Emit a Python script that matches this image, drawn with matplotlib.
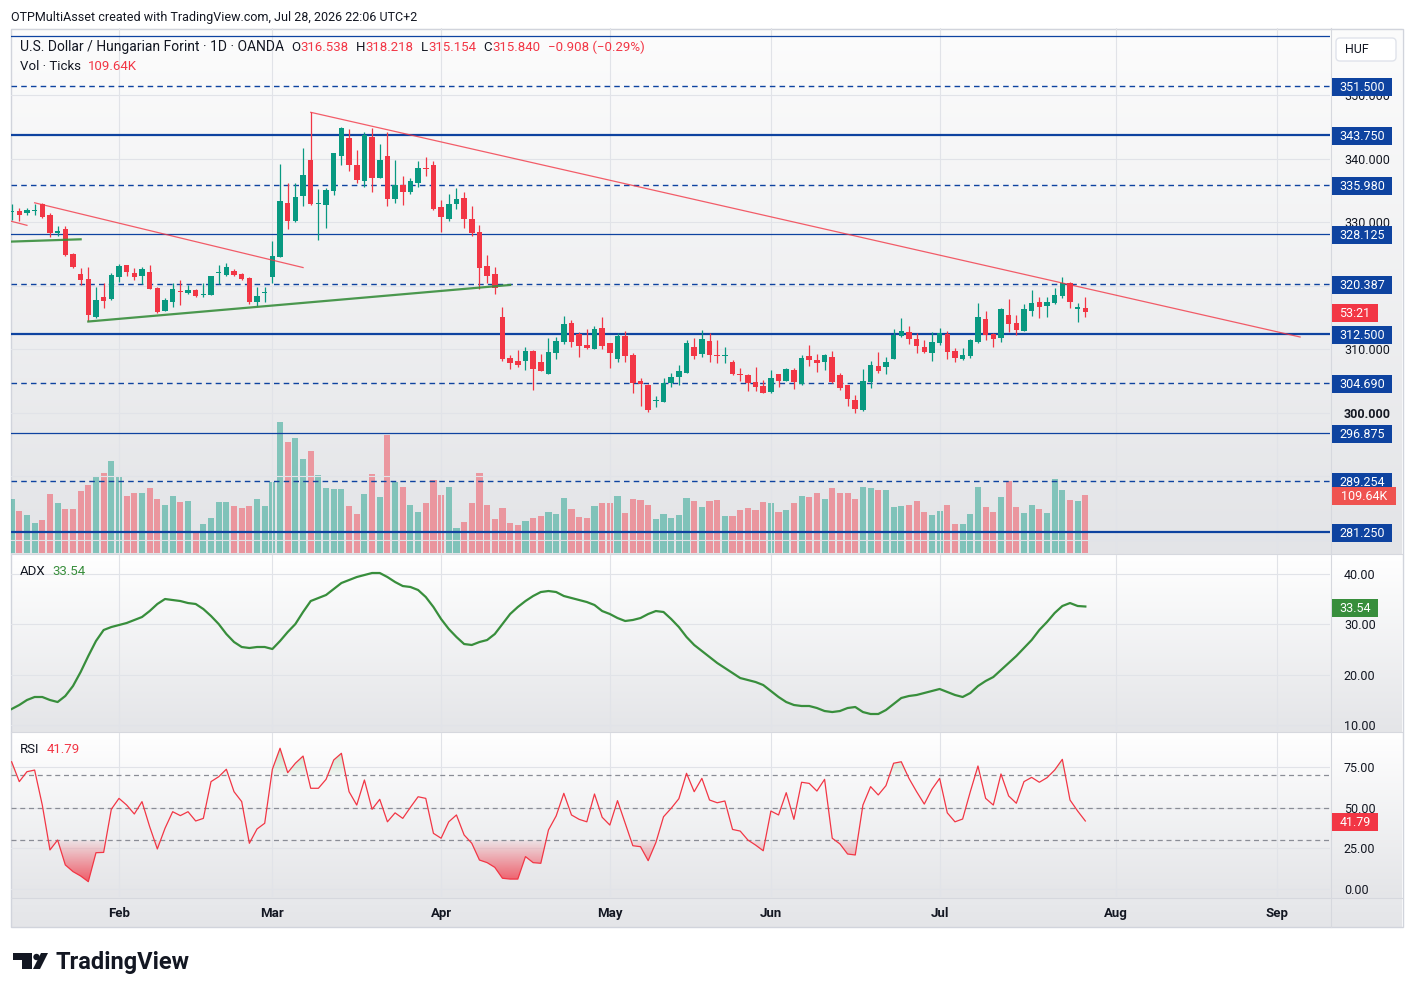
import numpy as np
import pandas as pd
import matplotlib
matplotlib.use("Agg")
import matplotlib.pyplot as plt
from matplotlib.colors import to_rgb
from matplotlib.patches import Rectangle, FancyBboxPatch, Polygon, Circle
from matplotlib.path import Path

plt.rcParams['font.family'] = ['Roboto', 'DejaVu Sans']

# USD/HUF, 1D, OANDA - daily bars 13 Jan .. 28 Jul 2026
first_day = '2026-01-13'
dates = pd.bdate_range(first_day, '2026-07-28')

open_ = [
    331.65, 331.81, 331.50, 331.78, 332.91, 331.18, 328.35, 328.98, 324.99, 321.87,
    321.10, 315.16, 318.31, 317.95,
    321.41, 323.30, 322.09, 321.57, 322.25, 319.73, 316.11, 317.52, 319.21, 318.94,
    319.37, 318.53, 318.58, 322.04, 321.73, 322.36, 321.84, 321.21, 317.52, 318.89,
    321.46, 324.61, 333.02, 330.28, 334.17, 339.84, 332.97, 332.75, 335.01, 340.47,
    343.35, 339.05, 336.58, 343.51, 337.05, 340.47, 333.70, 335.90, 334.85, 336.17,
    338.58, 339.05, 332.39, 330.55, 332.86, 333.81, 330.55, 328.46, 323.15, 321.87,
    315.16, 308.61, 308.18, 308.23, 309.76, 308.07, 306.14, 309.49, 311.22, 314.12,
    312.44, 310.70, 310.07, 313.33, 310.97, 308.50, 312.12, 309.13, 305.03, 304.40,
    301.88, 301.77, 304.77, 305.71, 306.34, 310.43, 309.29, 311.33, 309.02, 308.97,
    308.07, 306.03, 306.03, 304.92, 304.25, 303.35, 306.14, 305.03, 306.77, 304.51,
    308.97, 308.34, 308.07, 308.77, 305.98, 304.40, 302.04, 300.47, 304.92, 307.40,
    307.29, 308.45, 312.17, 312.70, 311.60, 310.34, 309.49, 311.07, 312.44, 309.76,
    308.45, 309.02, 311.22, 314.75, 312.39, 311.85, 315.43, 314.22, 312.96, 316.11,
    317.43, 316.90, 317.27, 318.47, 320.42, 316.32, 316.538]
high = [
    332.91, 332.28, 332.23, 332.86, 333.02, 331.44, 329.45, 329.45, 325.15, 322.78,
    322.94, 319.88, 320.51, 322.00,
    323.46, 323.38, 322.78, 323.04, 323.30, 319.76, 318.06, 320.42, 320.94, 320.16,
    319.45, 320.51, 321.60, 323.30, 323.57, 322.63, 322.00, 321.37, 319.88, 319.88,
    327.13, 339.21, 336.27, 336.17, 341.68, 347.35, 335.23, 335.38, 341.02, 345.09,
    344.68, 341.42, 344.30, 344.83, 342.36, 344.30, 339.84, 337.32, 337.05, 339.68,
    340.27, 339.73, 333.54, 334.48, 335.38, 334.85, 332.60, 329.61, 324.88, 322.94,
    316.74, 309.13, 309.92, 310.43, 309.92, 309.29, 311.76, 312.01, 315.27, 314.64,
    312.80, 313.18, 313.70, 315.16, 311.07, 312.64, 312.91, 309.49, 305.46, 304.48,
    302.67, 305.56, 306.25, 307.55, 311.49, 311.85, 313.07, 312.64, 311.49, 310.34,
    308.34, 307.03, 306.06, 307.19, 305.19, 306.77, 306.19, 307.13, 307.03, 309.13,
    310.70, 309.29, 309.29, 309.76, 306.25, 304.45, 302.83, 306.93, 308.18, 309.65,
    308.77, 313.22, 314.91, 313.70, 312.64, 311.49, 312.80, 313.43, 312.91, 310.18,
    310.18, 311.65, 317.37, 316.06, 312.64, 316.58, 317.90, 315.43, 317.16, 319.37,
    318.22, 318.31, 319.73, 321.46, 320.58, 317.37, 318.218]
low = [
    330.39, 330.28, 331.18, 331.18, 330.66, 327.76, 327.87, 324.77, 322.90, 320.16,
    314.53, 315.00, 316.58, 317.79,
    320.67, 321.57, 320.94, 320.31, 319.47, 315.70, 316.00, 316.64, 317.06, 318.69,
    318.22, 318.22, 318.53, 320.31, 321.57, 321.57, 320.94, 317.16, 316.85, 317.52,
    320.47, 324.56, 328.98, 330.12, 332.60, 332.75, 327.24, 329.18, 334.33, 339.05,
    338.16, 336.17, 335.54, 334.85, 336.96, 332.60, 333.12, 332.75, 334.48, 335.54,
    337.32, 332.04, 328.55, 330.28, 332.12, 329.18, 327.87, 319.47, 320.51, 318.69,
    308.23, 306.92, 307.19, 306.77, 303.62, 306.61, 306.06, 308.50, 310.86, 310.43,
    308.86, 310.07, 310.03, 310.07, 307.13, 308.07, 308.07, 303.19, 301.10, 300.10,
    300.99, 301.68, 304.04, 304.40, 306.29, 308.50, 308.86, 308.07, 307.92, 307.92,
    306.01, 305.08, 303.51, 303.46, 303.09, 303.19, 304.14, 304.98, 303.73, 304.46,
    307.40, 306.40, 306.77, 304.67, 303.62, 301.10, 300.04, 300.31, 303.93, 306.29,
    306.14, 308.42, 312.01, 310.86, 309.40, 309.49, 308.23, 310.70, 308.50, 308.07,
    308.40, 308.70, 311.07, 311.49, 310.34, 311.22, 312.70, 312.28, 312.91, 315.32,
    314.91, 315.07, 317.16, 318.06, 316.48, 314.38, 315.154]
close = [
    331.75, 331.18, 331.97, 331.89, 330.87, 328.35, 328.71, 324.88, 323.04, 320.94,
    315.43, 317.79, 317.68, 321.73,
    323.15, 322.25, 321.46, 322.67, 319.52, 315.95, 317.79, 319.52, 319.10, 319.37,
    318.42, 318.63, 321.57, 322.14, 322.94, 321.73, 321.05, 317.52, 318.42, 318.99,
    324.72, 333.38, 330.28, 333.97, 337.48, 332.91, 333.07, 335.12, 340.99, 344.93,
    339.05, 336.69, 343.78, 336.96, 339.84, 333.70, 335.90, 334.75, 336.53, 338.53,
    338.49, 332.12, 330.82, 332.86, 333.70, 330.50, 328.39, 322.78, 321.62, 319.63,
    308.50, 307.92, 307.55, 309.76, 306.92, 306.66, 309.65, 311.33, 314.01, 311.22,
    310.59, 310.18, 313.18, 310.59, 309.49, 312.12, 308.97, 304.77, 304.56, 300.47,
    301.98, 304.67, 305.71, 306.66, 311.07, 309.02, 311.65, 309.13, 308.92, 309.07,
    306.09, 305.93, 304.67, 304.04, 303.19, 305.46, 305.08, 306.88, 304.83, 308.61,
    308.34, 307.92, 309.13, 304.92, 303.98, 302.20, 300.62, 305.03, 307.55, 306.66,
    307.98, 312.28, 312.91, 311.65, 310.55, 309.65, 311.22, 312.55, 309.65, 308.70,
    309.13, 311.49, 315.07, 312.28, 311.60, 316.38, 313.96, 313.07, 316.38, 317.37,
    316.74, 317.43, 318.58, 320.52, 317.52, 316.748, 315.840]
volume_k = [
    102.6, 79.8, 72.2, 57.0, 62.7, 112.1, 95.0, 83.6, 83.6, 117.8,
    129.2, 144.4, 152.0, 174.8,
    146.3, 108.3, 114.0, 114.0, 123.5, 102.6, 91.2, 108.3, 96.9, 98.8,
    41.8, 55.1, 66.5, 96.9, 96.9, 89.3, 85.5, 89.3, 102.6, 89.3,
    134.9, 248.9, 210.9, 218.5, 178.6, 193.8, 148.2, 123.5, 121.6, 121.6,
    89.3, 74.1, 112.1, 150.1, 106.4, 224.2, 134.9, 125.4, 91.2, 77.9,
    95.0, 138.7, 110.2, 125.4, 47.5, 58.9, 95.0, 152.0, 91.2, 64.6,
    85.5, 57.0, 53.2, 60.8, 66.5, 70.3, 77.9, 74.1, 104.5, 83.6,
    68.4, 66.5, 89.3, 95.0, 95.0, 108.3, 76.0, 102.6, 100.7, 91.2,
    64.6, 74.1, 66.5, 72.2, 104.5, 98.8, 87.4, 98.8, 100.7, 70.3,
    70.3, 81.7, 85.5, 81.7, 96.9, 95.0, 77.9, 81.7, 95.0, 108.3,
    106.4, 114.0, 102.6, 123.5, 114.0, 114.0, 102.6, 125.4, 123.5, 119.7,
    119.7, 87.4, 89.3, 91.2, 98.8, 77.9, 72.2, 79.8, 91.2, 55.1,
    55.1, 74.1, 125.4, 87.4, 77.9, 106.4, 136.8, 87.4, 76.0, 91.2,
    83.6, 76.0, 140.6, 119.7, 100.7, 98.8, 109.64]
adx = [
    13.16, 13.96, 14.95, 15.55, 15.55, 14.95, 14.55, 15.75, 17.73, 20.52,
    23.70, 26.68, 28.87, 29.46,
    29.86, 30.26, 30.86, 31.45, 32.64, 34.04, 35.03, 34.83, 34.63, 34.23,
    34.04, 33.04, 31.65, 30.06, 28.07, 26.48, 25.49, 25.29, 25.49, 25.49,
    25.09, 26.68, 28.47, 30.06, 32.45, 34.63, 35.23, 35.83, 37.02, 38.21,
    38.81, 39.40, 39.80, 40.20, 40.20, 39.40, 38.41, 37.61, 37.42, 36.82,
    35.43, 33.44, 31.05, 29.07, 27.48, 26.08, 25.89, 26.48, 26.88, 28.07,
    30.06, 32.05, 33.44, 34.63, 35.63, 36.42, 36.62, 36.42, 35.63, 35.23,
    34.83, 34.43, 33.84, 32.64, 32.05, 31.25, 30.66, 30.86, 31.25, 32.05,
    32.64, 32.45, 31.05, 29.46, 27.48, 25.89, 24.69, 23.50, 22.31, 21.31,
    20.32, 19.32, 18.93, 18.53, 17.93, 16.74, 15.55, 14.55, 13.96, 13.76,
    13.76, 13.36, 12.76, 12.56, 12.76, 13.36, 13.56, 12.56, 12.17, 12.17,
    12.96, 14.16, 15.35, 15.75, 15.95, 16.34, 16.74, 17.14, 16.54, 15.95,
    15.55, 16.34, 17.73, 18.73, 19.52, 20.92, 22.31, 23.70, 25.29, 26.88,
    28.87, 30.46, 32.25, 33.64, 34.23, 33.64, 33.54]
rsi = [
    78.2, 66.0, 72.1, 73.1, 51.6, 24.0, 30.1, 14.8, 10.7, 8.0,
    4.5, 22.3, 22.5, 49.0,
    55.7, 51.6, 46.1, 53.7, 38.3, 24.6, 37.3, 47.5, 45.1, 47.5,
    41.8, 43.4, 66.0, 69.0, 73.6, 59.8, 53.7, 28.1, 36.9, 40.4,
    73.6, 86.5, 71.5, 77.3, 81.7, 61.9, 61.9, 67.4, 79.3, 83.4,
    59.8, 51.6, 67.0, 49.0, 55.1, 41.3, 46.8, 43.4, 50.2, 56.7,
    55.7, 34.2, 31.2, 41.3, 45.5, 33.2, 28.1, 17.8, 16.2, 13.3,
    6.6, 6.1, 6.1, 19.9, 16.2, 15.8, 36.3, 44.9, 58.8, 45.5,
    42.8, 41.3, 58.4, 44.1, 39.3, 54.3, 40.4, 26.6, 26.0, 17.4,
    28.5, 44.4, 49.6, 55.5, 71.1, 59.8, 68.0, 54.7, 53.0, 54.1,
    36.6, 35.6, 30.1, 27.0, 23.5, 47.9, 45.5, 59.2, 42.8, 65.6,
    64.9, 60.2, 67.4, 31.2, 27.7, 21.5, 20.9, 51.6, 62.9, 57.8,
    63.5, 77.3, 78.2, 68.0, 59.8, 52.2, 61.3, 68.0, 46.8, 41.3,
    43.0, 59.8, 75.6, 55.7, 51.6, 70.7, 57.2, 52.7, 66.0, 68.6,
    65.6, 68.4, 73.1, 79.7, 54.7, 47.9, 41.79]

# horizontal levels drawn on the chart
level_price = [359.375, 351.500, 343.750, 335.980, 328.125, 320.387,
               312.500, 304.690, 296.875, 289.254, 281.250]
level_kind = ['thin', 'dash', 'thick', 'dash', 'thin', 'dash',
              'thick', 'dash', 'thin', 'dash', 'thick']

# price scale ticks (the ones covered by level tags have no label)
price_ticks = [280, 290, 300, 310, 320, 330, 340, 350]
price_tick_labels = ['', '', '300.000', '310.000', '', '330.000', '340.000', '350.000']

# trend lines: start date, start price, end date, end price, colour
trend_lines = [
    ('2026-01-09', 330.80, '2026-01-15', 329.55, 'red'),
    ('2026-01-16', 333.10, '2026-03-06', 322.90, 'red'),
    ('2026-03-09', 347.35, '2026-09-04', 311.96, 'red'),
    ('2026-01-12', 326.95, '2026-01-26', 327.35, 'green'),
    ('2026-01-27', 314.40, '2026-04-14', 320.16, 'green'),
]

UP, DOWN = '#089981', '#f23645'
BLUE = '#0e43a0'
TXT = '#131722'
GRID = '#e1e3e8'

W, H = 1413, 996
fig = plt.figure(figsize=(W / 100, H / 100), dpi=100)
fig.patch.set_facecolor('white')


def axes_px(x0, y0, x1, y1):
    a = fig.add_axes([x0 / W, 1 - y1 / H, (x1 - x0) / W, (y1 - y0) / H])
    a.set_facecolor('none')
    for s in a.spines.values():
        s.set_visible(False)
    return a


def gradient(a, x0, x1, y0, y1, c_top, c_bot):
    t = np.linspace(0, 1, 200)[:, None, None]
    img = (1 - t) * np.array(to_rgb(c_top)) + t * np.array(to_rgb(c_bot))
    a.imshow(img, extent=[x0, x1, y1, y0], aspect='auto', interpolation='bilinear', zorder=0)


# background, frame and separators
bg = axes_px(0, 0, W, H)
bg.set_zorder(-1)
gradient(bg, 11, 1402, 28, 554, '#fcfcfc', '#e3e4e7')
gradient(bg, 11, 1402, 554, 732, '#ffffff', '#e4e5e8')
gradient(bg, 11, 1402, 732, 898, '#ffffff', '#e4e5e8')
gradient(bg, 11, 1402, 898, 927, '#e8e9ec', '#e4e5e8')
bg.add_patch(Rectangle((10.5, 28.5), 1392, 898.5, fill=False, ec='#d1d4dc', lw=1))
for yy in (554, 732, 898):
    bg.plot([11, 1402], [yy, yy], color='#d6d8de', lw=0.8)
bg.plot([1330.5, 1330.5], [28, 927], color='#d6d8de', lw=0.8)
bg.set_xlim(0, W)
bg.set_ylim(H, 0)
bg.axis('off')

x = np.arange(len(dates))
o, h, l, c = map(np.array, (open_, high, low, close))
colors = np.where(c >= o, UP, DOWN)

month_starts = pd.date_range('2026-02-01', '2026-09-01', freq='MS')
month_pos = np.busday_count(first_day, [d.date() for d in month_starts])
month_lbl = month_starts.strftime('%b')
xlim = (-0.08, 171.9)

# volume (under the price panel)
axv = axes_px(11, 28, 1330, 553)
axv.bar(x, volume_k, width=0.8, color=colors, alpha=0.45, linewidth=0)
axv.set_ylim(0, 997.5)
axv.set_xlim(*xlim)
axv.set_xticks([])
axv.set_yticks([])

# price panel
ax = axes_px(11, 28, 1330, 553)
for p, k in zip(level_price, level_kind):
    if k == 'dash':
        ax.axhline(p, color=BLUE, lw=1.0, ls=(0, (4, 3)), zorder=2)
    else:
        ax.axhline(p, color=BLUE, lw=1.6 if k == 'thick' else 0.9, zorder=2)
ax.vlines(x, l, h, colors=colors, lw=0.9, zorder=3)
ax.bar(x, np.maximum(np.abs(c - o), 0.16), bottom=np.minimum(o, c), width=0.72,
       color=colors, linewidth=0, zorder=4)
for d0, p0, d1, p1, col in trend_lines:
    xs = [np.busday_count(first_day, d0), np.busday_count(first_day, d1)]
    if col == 'red':
        ax.plot(xs, [p0, p1], color=DOWN, lw=0.9, alpha=0.8, zorder=5)
    else:
        ax.plot(xs, [p0, p1], color='#388e3c', lw=1.6, alpha=0.9, zorder=5)
ax.set_xlim(*xlim)
ax.set_ylim(277.94, 360.63)
ax.set_yticks(price_ticks)
ax.set_yticklabels(price_tick_labels)
ax.yaxis.tick_right()
ax.tick_params(axis='y', length=0, pad=10, labelsize=9, labelcolor=TXT)
ax.set_xticks(month_pos)
ax.tick_params(axis='x', length=0, labelbottom=False)
ax.grid(True, color=GRID, lw=0.8, zorder=0)
ax.set_axisbelow(True)
for lab in ax.get_yticklabels():
    if lab.get_text() == '300.000':
        lab.set_fontweight('bold')

# ADX panel
ax_adx = axes_px(11, 555, 1330, 731)
ax_adx.plot(x, adx, color='#388e3c', lw=1.6, zorder=3)
ax_adx.set_xlim(*xlim)
ax_adx.set_ylim(8.79, 43.78)
ax_adx.set_yticks([10, 20, 30, 40])
ax_adx.set_yticklabels(['10.00', '20.00', '30.00', '40.00'])
ax_adx.get_yticklabels()[-1].set_fontweight('bold')
ax_adx.yaxis.tick_right()
ax_adx.tick_params(axis='y', length=0, pad=10, labelsize=9, labelcolor=TXT)
ax_adx.set_xticks(month_pos)
ax_adx.tick_params(axis='x', length=0, labelbottom=False)
ax_adx.grid(True, color=GRID, lw=0.8)
ax_adx.set_axisbelow(True)

# RSI panel
ax_rsi = axes_px(11, 733, 1330, 897)
r = np.array(rsi)
for lv in (70, 50, 30):
    ax_rsi.axhline(lv, color='#8a8d96', lw=0.9, ls=(0, (4, 3)), zorder=2)
t = np.linspace(0, 1, 120)[:, None]
fb = ax_rsi.fill_between(x, r, 30, where=r < 30, interpolate=True, facecolor='none', edgecolor='none')
img = np.zeros((120, 1, 4))
img[..., :3] = to_rgb(DOWN)
img[..., 3] = 0.06 + 0.85 * t
im = ax_rsi.imshow(img, extent=[-1, len(x), 0, 30], origin='upper', aspect='auto', zorder=1)
im.set_clip_path(Path.make_compound_path(*fb.get_paths()), transform=ax_rsi.transData)
fb = ax_rsi.fill_between(x, r, 70, where=r > 70, interpolate=True, facecolor='none', edgecolor='none')
img = np.zeros((120, 1, 4))
img[..., :3] = to_rgb('#4caf50')
img[..., 3] = 0.35 * (1 - t) + 0.04
im = ax_rsi.imshow(img, extent=[-1, len(x), 70, 90], origin='upper', aspect='auto', zorder=1)
im.set_clip_path(Path.make_compound_path(*fb.get_paths()), transform=ax_rsi.transData)
ax_rsi.plot(x, r, color=DOWN, lw=0.9, zorder=3)
ax_rsi.set_xlim(*xlim)
ax_rsi.set_ylim(-4.92, 95.88)
ax_rsi.set_yticks([0, 25, 50, 75])
ax_rsi.set_yticklabels(['0.00', '25.00', '50.00', '75.00'])
ax_rsi.yaxis.tick_right()
ax_rsi.tick_params(axis='y', length=0, pad=10, labelsize=9, labelcolor=TXT)
ax_rsi.set_xticks(month_pos)
ax_rsi.set_xticklabels(month_lbl, fontsize=9.5, fontweight='bold', color=TXT)
ax_rsi.tick_params(axis='x', length=0, pad=7)
ax_rsi.grid(True, color=GRID, lw=0.8)
ax_rsi.set_axisbelow(True)

# overlay: labels, legends, header
ov = axes_px(0, 0, W, H)
ov.set_zorder(5)
ov.set_xlim(0, W)
ov.set_ylim(H, 0)
ov.axis('off')


def ypix(a, v):
    return H - a.transData.transform((0, v))[1]


def tag(a, v, s, fc, w=60):
    yp = ypix(a, v) + 1
    ov.add_patch(Rectangle((1332, yp - 9), w, 18, fc=fc, ec='none', zorder=6))
    ov.text(1332 + w / 2, yp + 0.5, s, color='white', fontsize=9, ha='center', va='center', zorder=7)


for p in level_price[1:]:
    tag(ax, p, f'{p:.3f}', BLUE)
tag(ax, close[-1], '53:21', DOWN, w=46)
tag(axv, volume_k[-1], f'{volume_k[-1]:.2f}K', '#ef5350', w=64)
tag(ax_adx, adx[-1], f'{adx[-1]:.2f}', '#388e3c', w=46)
tag(ax_rsi, rsi[-1], f'{rsi[-1]:.2f}', DOWN, w=46)

ov.add_patch(FancyBboxPatch((1336, 38), 60, 23, boxstyle='round,pad=0,rounding_size=4',
                            fc='white', ec='#e0e3eb', lw=1, zorder=6))
ov.text(1345, 49.5, 'HUF', fontsize=9, color=TXT, va='center', ha='left', zorder=7)

renderer = fig.canvas.get_renderer()


def run(x0, y0, parts, size=9.5):
    for s, colr, gap, *fs in parts:
        tx = ov.text(x0, y0, s, color=colr, fontsize=fs[0] if fs else size, ha='left', va='center')
        x0 += tx.get_window_extent(renderer).width + gap


run(20, 47, [('U.S. Dollar / Hungarian Forint · 1D · OANDA', TXT, 7, 10),
             ('O', TXT, 0.5), (f'{open_[-1]:.3f}', DOWN, 7),
             ('H', TXT, 0.5), (f'{high[-1]:.3f}', DOWN, 7),
             ('L', TXT, 0.5), (f'{low[-1]:.3f}', DOWN, 7),
             ('C', TXT, 0.5), (f'{close[-1]:.3f}', DOWN, 7),
             ('−0.908 (−0.29%)', DOWN, 0)])
run(20, 66, [('Vol · Ticks', TXT, 7), (f'{volume_k[-1]:.2f}K', DOWN, 0)])
run(20, 571, [('ADX', TXT, 7), (f'{adx[-1]:.2f}', '#388e3c', 0)])
run(20, 749, [('RSI', TXT, 7), (f'{rsi[-1]:.2f}', DOWN, 0)])

ov.text(11, 17, 'OTPMultiAsset created with TradingView.com, Jul 28, 2026 22:06 UTC+2',
        fontsize=9, color=TXT, ha='left', va='center')

# TradingView logo
ov.add_patch(Polygon([(13, 953), (32, 953), (32, 969), (22, 969), (22, 960), (13, 960)],
                     closed=True, fc=TXT, ec='none'))
ov.add_patch(Circle((36.5, 957), 3.2, fc=TXT, ec='none'))
ov.add_patch(Polygon([(41, 953), (48, 953), (40, 969), (33, 969)], closed=True, fc=TXT, ec='none'))
ov.text(55, 962, 'TradingView', fontsize=17, fontweight='bold', color=TXT,
        ha='left', va='center')

fig.savefig('out.png', dpi=100)
